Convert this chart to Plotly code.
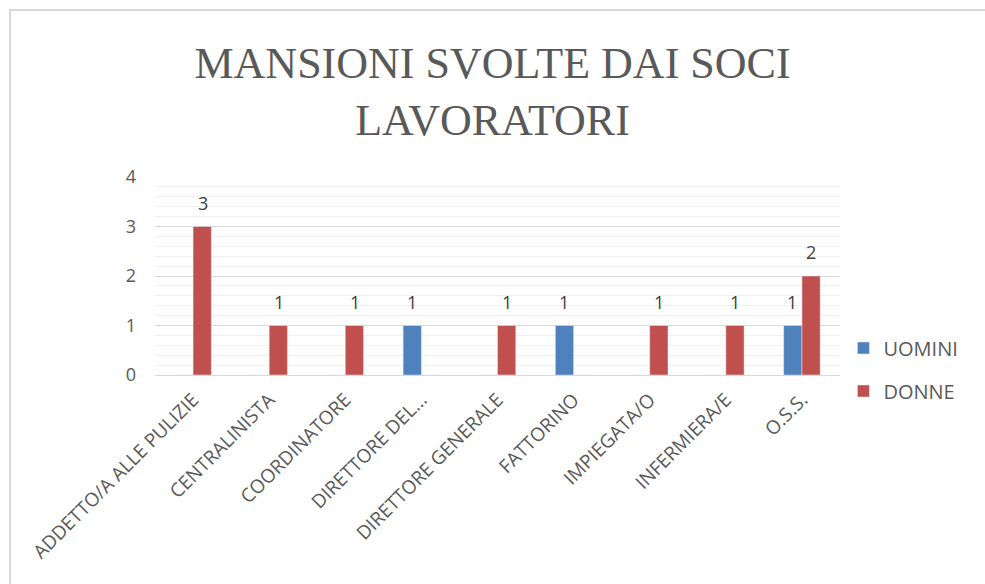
import plotly.graph_objects as go

categories = ["ADDETTO/A ALLE PULIZIE", "CENTRALINISTA", "COORDINATORE", "DIRETTORE DEL...",
              "DIRETTORE GENERALE", "FATTORINO", "IMPIEGATA/O", "INFERMIERA/E", "O.S.S."]
uomini = [0, 0, 0, 1, 0, 1, 0, 0, 1]
donne = [3, 1, 1, 0, 1, 0, 1, 1, 2]
y_ticks = [0, 1, 2, 3, 4]

BLUE = "#4F81BD"
RED = "#C0504D"
TXT = "#595959"

fig = go.Figure()
fig.add_trace(go.Bar(x=categories, y=uomini, name="UOMINI", marker_color=BLUE, legend="legend", showlegend=True))
fig.add_trace(go.Bar(x=categories, y=donne, name="DONNE", marker_color=RED, legend="legend2", showlegend=True))

annotations = []
for vals, xs in ((uomini, -9.5), (donne, 9.5)):
    for c, v in zip(categories, vals):
        if v:
            annotations.append(dict(x=c, y=v, text=str(v), showarrow=False, xref="x", yref="y",
                                    yanchor="bottom", yshift=10, xshift=xs,
                                    font=dict(family="Open Sans", size=18, color="#404040")))

fig.update_layout(
    width=985, height=584, showlegend=True,
    margin=dict(l=155, r=145, t=177, b=209),
    paper_bgcolor="white", plot_bgcolor="white",
    barmode="group", bargap=0.52, bargroupgap=0,
    title=dict(text="MANSIONI SVOLTE DAI SOCI<br>LAVORATORI", x=0.5, xanchor="center",
               y=1 - 78 / 584, yanchor="middle", yref="container",
               font=dict(family="Liberation Serif, serif", size=44, color="#595959")),
    xaxis=dict(tickangle=-45, tickfont=dict(family="Open Sans", size=19, color=TXT),
               showgrid=False, showline=False, ticks="", ticklabelstandoff=9),
    yaxis=dict(range=[0, 4], tickvals=y_ticks, tickfont=dict(family="Open Sans", size=18, color=TXT),
               showgrid=True, gridcolor="#d9d9d9", gridwidth=1, zeroline=True, zerolinecolor="#d9d9d9",
               zerolinewidth=1, ticks="", ticklabelstandoff=18,
               minor=dict(dtick=0.2, showgrid=True, gridcolor="#f0f0f0", gridwidth=1)),
    legend=dict(x=1.005, y=(375 - 348) / 198, xanchor="left", yanchor="middle", bgcolor="rgba(0,0,0,0)",
                itemwidth=30, font=dict(family="Open Sans", size=20, color=TXT)),
    legend2=dict(x=1.005, y=(375 - 391) / 198, xanchor="left", yanchor="middle", bgcolor="rgba(0,0,0,0)",
                 itemwidth=30, font=dict(family="Open Sans", size=20, color=TXT)),
    annotations=annotations,
    shapes=[dict(type="rect", xref="paper", yref="paper",
                 x0=(10 - 155) / 685, x1=(995 - 155) / 685, y0=(375 - 600) / 198, y1=(375 - 10) / 198,
                 line=dict(color="#d9d9d9", width=2), layer="below")],
)

fig.write_html("out.html", config={"displayModeBar": False},
               post_script="document.body.style.margin='0px';")
